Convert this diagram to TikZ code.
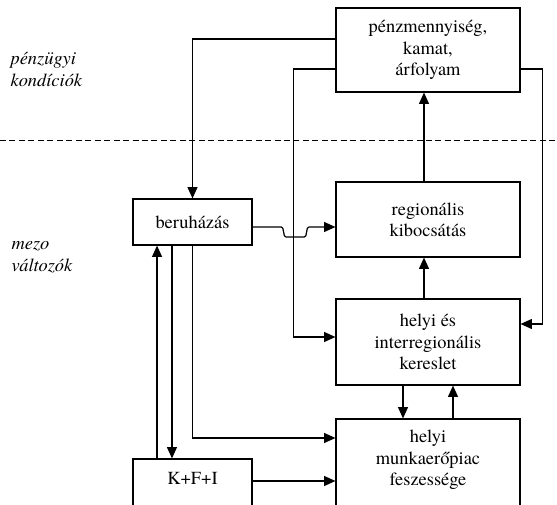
\documentclass[tikz,border=0pt]{standalone}
\usepackage{fontspec}
\setmainfont{texgyretermes}[Extension=.otf, UprightFont=*-regular, ItalicFont=*-italic, BoldFont=*-bold]
\usetikzlibrary{calc,arrows.meta}
\tikzset{>={Triangle[length=8.5pt,width=7.5pt]}}
\tikzset{
  blokk/.style={draw, line width=0.9pt, inner sep=0pt, align=center},
  felirat/.style={inner sep=0pt, align=center},
  oldal/.style={inner sep=0pt, align=left, anchor=west,
    font=\fontsize{13.8}{16.5}\selectfont\itshape},
}

\begin{document}
\begin{tikzpicture}[x=0.75pt, y=-0.75pt, line width=0.9pt,
  font=\fontsize{13.8}{16}\selectfont]

  \useasboundingbox (0,0) rectangle (557,505);

  \node[blokk, minimum width=138pt, minimum height=63pt] (penz) at (428,50)
    {pénzmennyiség,\\kamat,\\árfolyam};
  \node[blokk, minimum width=138pt, minimum height=56.25pt] (regio) at (428,219.5)
    {regionális\\kibocsátás};
  \node[blokk, minimum width=138pt, minimum height=64.5pt] (kereslet) at (428,342)
    {helyi és\\interregionális\\kereslet};
  \node[blokk, minimum width=138pt, minimum height=72pt] (munka) at (428,467) {};
  \node[felirat] (munkatxt) at (428,460) {helyi\\munkaerőpiac\\feszessége};

  \node[blokk, minimum width=89.25pt, minimum height=34.5pt] (beruh) at (192.5,222)
    {beruházás};
  \node[blokk, minimum width=89.25pt, minimum height=42pt] (kfi) at (192.5,487) {};
  \node[felirat] (kfitxt) at (192.5,478) {K+F+I};

  \node[oldal] (penzlbl) at (10,69) {pénzügyi\\kondíciók};
  \node[oldal] (mezolbl) at (11,257) {mezo\\változók};

  % separator
  \draw[dashed, dash pattern=on 4.5pt off 2.6pt, line width=0.7pt] (0,140) -- (557,140);

  % money market feedbacks
  \draw[->] ($(penz.west)+(0,-11)$) -| (beruh.north);
  \draw[->] ($(penz.west)+(0,19)$) -| ($(kereslet.west)+(-42,-5)$) -- ($(kereslet.west)+(0,-5)$);
  \draw[->] ($(penz.east)+(0,19)$) -| ($(kereslet.east)+(22,-18)$) -- ($(kereslet.east)+(0,-18)$);
  \draw[->] ([xshift=-3pt]regio.north) -- ([xshift=-3pt]penz.south);
  \draw[->] ([xshift=-3pt]kereslet.north) -- ([xshift=-3pt]regio.south);

  % investment with the small jump
  \draw[->, rounded corners=1pt] ($(beruh.east)+(0,5)$) coordinate (b0)
    -- ++(30,0) -- ++(2,10) -- ++(21,0) -- ++(2,-10) -- (b0 -| regio.west);

  \draw[->] ([xshift=-18.75pt]kereslet.south) -- ([xshift=-18.75pt]munka.north);
  \draw[->] ([xshift=18.75pt]munka.north) -- ([xshift=18.75pt]kereslet.south);

  \draw[->] (beruh.south) |- ($(munka.west)+(0,-29)$);
  \draw[->] ($(kfi.east)+(0,-6)$) -- ($(munka.west)+(0,14)$);
  \draw[->] ([xshift=-26.6pt]kfi.north) -- ([xshift=-26.6pt]beruh.south);
  \draw[->] ([xshift=-15.4pt]beruh.south) -- ([xshift=-15.4pt]kfi.north);

\end{tikzpicture}
\end{document}
